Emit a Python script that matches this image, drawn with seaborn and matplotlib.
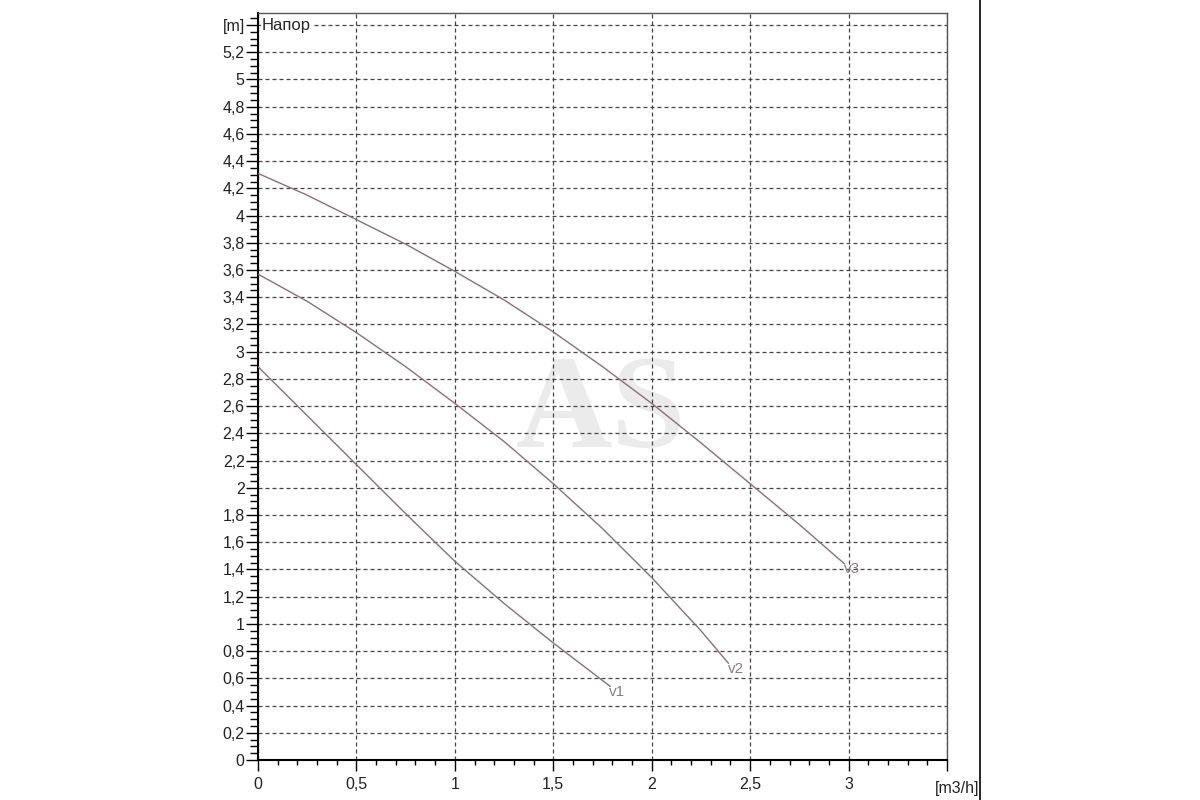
import numpy as np
import pandas as pd
import matplotlib
matplotlib.use('Agg')
import matplotlib.pyplot as plt
from matplotlib.ticker import MultipleLocator, FixedLocator
import seaborn as sns

# Pump head curves (flow m3/h -> head m)
v1_flow = [0, 0.25, 0.5, 0.75, 1.0, 1.25, 1.5, 1.79]
v1_head = [2.89, 2.53, 2.17, 1.81, 1.46, 1.15, 0.86, 0.54]

v2_flow = [0, 0.25, 0.5, 0.75, 1.0, 1.25, 1.5, 1.75, 2.0, 2.25, 2.39]
v2_head = [3.57, 3.37, 3.14, 2.89, 2.62, 2.34, 2.03, 1.70, 1.34, 0.95, 0.71]

v3_flow = [0, 0.25, 0.5, 0.75, 1.0, 1.25, 1.5, 1.75, 2.0, 2.25, 2.5, 2.75, 2.98]
v3_head = [4.31, 4.15, 3.97, 3.79, 3.59, 3.38, 3.145, 2.89, 2.62, 2.33, 2.03, 1.73, 1.44]

speeds = ['v1', 'v2', 'v3']

y_ticks = [round(0.2 * i, 1) for i in range(28)]  # 0 .. 5.4
x_ticks = [0, 0.5, 1, 1.5, 2, 2.5, 3, 3.5]

df = pd.concat([
    pd.DataFrame({'flow': v1_flow, 'head': v1_head, 'speed': 'v1'}),
    pd.DataFrame({'flow': v2_flow, 'head': v2_head, 'speed': 'v2'}),
    pd.DataFrame({'flow': v3_flow, 'head': v3_head, 'speed': 'v3'}),
])

sns.set_style('white')
plt.rcParams['font.family'] = ['Liberation Sans', 'DejaVu Sans']

fig = plt.figure(figsize=(12, 8), dpi=100)
ax = fig.add_axes([0.215, 0.05, 0.5742, 0.934])

curve_color = '#8c6f76'
sns.lineplot(data=df, x='flow', y='head', units='speed', estimator=None,
             color=curve_color, linewidth=1.0, ax=ax, zorder=3)

# speed labels at curve ends
for name, fx, hy in zip(speeds, [v1_flow, v2_flow, v3_flow], [v1_head, v2_head, v3_head]):
    ax.text(fx[-1] - 0.005, hy[-1] - 0.04, name, color='#8c7f84', fontsize=11,
            ha='left', va='center', zorder=4)

# watermark
ax.text(1.741, 2.30, 'AS', family='Liberation Serif', fontweight='bold', fontsize=96,
        color='#ebebeb', ha='center', va='baseline', zorder=0)

ax.set_xlim(0, 3.5)
ax.set_ylim(0, 5.49)

ax.yaxis.set_major_locator(FixedLocator(y_ticks))
ax.yaxis.set_minor_locator(MultipleLocator(0.05))
ax.xaxis.set_major_locator(FixedLocator(x_ticks))
ax.xaxis.set_minor_locator(MultipleLocator(0.1))

ylabels = [('%g' % v).replace('.', ',') for v in y_ticks]
ylabels[-1] = '[m]'
xlabels = [('%g' % v).replace('.', ',') for v in x_ticks]
xlabels[-1] = ''
ax.set_yticklabels(ylabels)
ax.set_xticklabels(xlabels)

ax.tick_params(axis='y', which='major', direction='out', length=8.6, width=1,
               labelsize=11.5, color='black', pad=1, left=True, labelcolor='#222222')
ax.tick_params(axis='y', which='minor', direction='out', length=5.8, width=1,
               color='black', left=True)
ax.tick_params(axis='x', which='major', direction='out', length=7.9, width=1,
               labelsize=11.5, color='black', pad=4, bottom=True, labelcolor='#222222')
ax.tick_params(axis='x', which='minor', direction='out', length=3.6, width=1,
               color='black', bottom=True)

# unit label under the last x tick, shifted a little to the right
ax.annotate('[m3/h]', xy=(3.5, 0), xycoords=('data', 'axes fraction'),
            xytext=(7, -15), textcoords='offset points', ha='center', va='top',
            fontsize=11.5, color='#222222')

ax.grid(True, which='major', linestyle=(0, (3.2, 2.4)), color='#454545', linewidth=0.9)
ax.set_axisbelow(True)

ax.set_xlabel('')
ax.set_ylabel('')

for side in ['left', 'bottom']:
    ax.spines[side].set_color('black')
    ax.spines[side].set_linewidth(1.5)
for side in ['top', 'right']:
    ax.spines[side].set_color('#555555')
    ax.spines[side].set_linewidth(1.0)

ax.text(0.02, 5.4, 'Напор', fontsize=12, ha='left', va='center', zorder=5,
        bbox=dict(facecolor='white', edgecolor='none', pad=1))

# border line at the right of the picture
fig.add_artist(plt.Line2D([980 / 1200, 980 / 1200], [0, 1], color='black', linewidth=1.2))

fig.savefig('out.png', dpi=100)
